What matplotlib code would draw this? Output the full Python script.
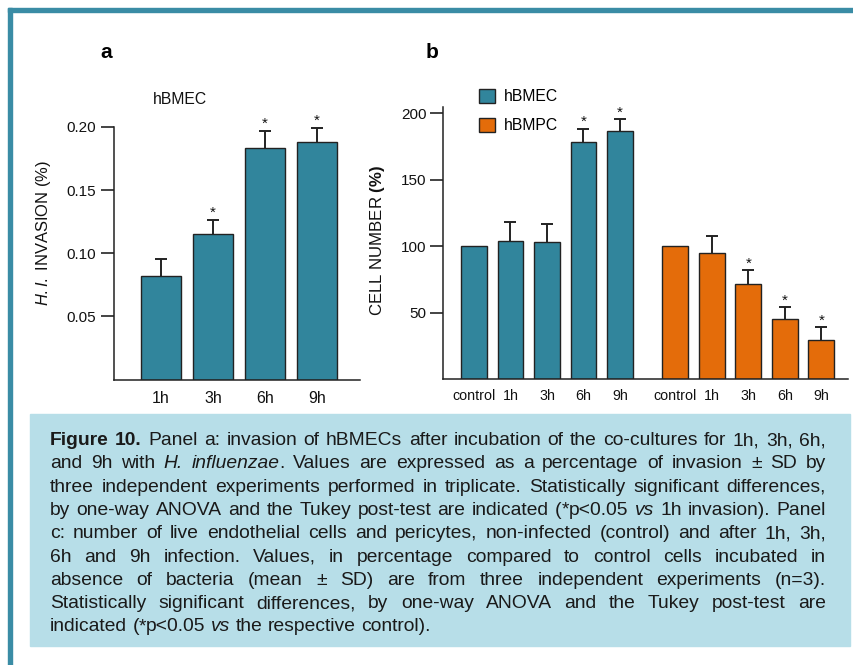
import re
import numpy as np
import matplotlib
matplotlib.use('Agg')
import matplotlib.pyplot as plt
from matplotlib.patches import Rectangle

plt.rcParams['font.family'] = ['Liberation Sans', 'DejaVu Sans']
plt.rcParams['mathtext.fontset'] = 'custom'
plt.rcParams['mathtext.rm'] = 'Liberation Sans'
plt.rcParams['mathtext.it'] = 'Liberation Sans:italic'
plt.rcParams['mathtext.bf'] = 'Liberation Sans:bold'

# panel a data
times_a = ['1h', '3h', '6h', '9h']
invasion = [0.0817, 0.1153, 0.183, 0.188]
invasion_sd = [0.014, 0.011, 0.014, 0.0115]
invasion_sig = [False, True, True, True]

# panel b data
groups_b = ['control', '1h', '3h', '6h', '9h']
bmec_cells = [100, 104.1, 103.4, 178.6, 186.6]
bmec_sd = [0, 13.9, 13.3, 9.7, 9.0]
bmec_sig = [False, False, False, True, True]
bmpc_cells = [100, 95.1, 71.8, 45.5, 29.2]
bmpc_sd = [0, 12.8, 10.1, 8.6, 9.8]
bmpc_sig = [False, False, True, True, True]

caption_lines = [
    "**Figure** **10.** Panel a: invasion of hBMECs after incubation of the co-cultures for 1h, 3h, 6h,",
    "and 9h with *H.* *influenzae*. Values are expressed as a percentage of invasion \u00b1 SD by",
    "three independent experiments performed in triplicate. Statistically significant differences,",
    "by one-way ANOVA and the Tukey post-test are indicated (*p<0.05 *vs* 1h invasion). Panel",
    "c: number of live endothelial cells and pericytes, non-infected (control) and after 1h, 3h,",
    "6h and 9h infection. Values, in percentage compared to control cells incubated in",
    "absence of bacteria (mean \u00b1 SD) are from three independent experiments (n=3).",
    "Statistically significant differences, by one-way ANOVA and the Tukey post-test are",
    "indicated (*p<0.05 *vs* the respective control).",
]

teal = '#31859C'
orange = '#E46C0A'
edge = '#222222'
W, H = 854, 665

fig = plt.figure(figsize=(W / 100, H / 100), dpi=100)


def fx(x):
    return x / W


def fy(y):
    return 1 - y / H


def axes_px(left, top, right, bottom):
    return fig.add_axes([fx(left), fy(bottom), (right - left) / W, (bottom - top) / H])


# frame and caption box
fig.patches.append(Rectangle((fx(8), 0), 4 / W, fy(8), transform=fig.transFigure,
                             color='#3a8ca5', zorder=0))
fig.patches.append(Rectangle((fx(8), fy(12)), 1, 4 / H, transform=fig.transFigure,
                             color='#3a8ca5', zorder=0))
fig.patches.append(Rectangle((fx(30), fy(646)), (850 - 30) / W, (646 - 414) / H,
                             transform=fig.transFigure, color='#B7DEE8', zorder=0))


def style_axes(ax):
    for s in ['top', 'right']:
        ax.spines[s].set_visible(False)
    for s in ['left', 'bottom']:
        ax.spines[s].set_linewidth(1.1)
        ax.spines[s].set_color(edge)
    ax.tick_params(axis='x', length=0, labelsize=11.5, pad=8, colors='#111111')
    ax.tick_params(axis='y', length=9.4, width=1.1, labelsize=11, pad=3.2, colors='#111111')


def draw_bars(ax, xs, vals, sds, color, width, label=None):
    ax.bar(xs, vals, width=width, color=color, edgecolor=edge, linewidth=1.0,
           zorder=2, label=label)
    m = np.array(sds) > 0
    ax.errorbar(np.asarray(xs)[m], np.array(vals)[m], yerr=np.array(sds)[m], fmt='none',
                ecolor=edge, elinewidth=1.4, capsize=4.5, capthick=1.4, zorder=1)


def add_stars(ax, xs, vals, sds, sig):
    for x, v, s, g in zip(xs, vals, sds, sig):
        if g:
            ax.annotate('*', (x, v + s), xytext=(0, 2), textcoords='offset points',
                        ha='center', va='baseline', fontsize=11, color='#111111')


# ---- panel a ----
ax1 = axes_px(114, 127, 360, 379.5)
xa = np.arange(len(times_a))
draw_bars(ax1, xa, invasion, invasion_sd, teal, 0.78)
add_stars(ax1, xa, invasion, invasion_sd, invasion_sig)
ax1.set_ylim(0, 0.2)
ax1.set_xlim(-0.904, 3.83)
ax1.set_yticks([0.05, 0.10, 0.15, 0.20])
ax1.set_yticklabels(['0.05', '0.10', '0.15', '0.20'])
ax1.set_xticks(xa)
ax1.set_xticklabels(times_a)
style_axes(ax1)
fig.text(fx(44), fy(233), r'$\mathit{H.I.}$ INVASION (%)', rotation=90,
         ha='center', va='center', fontsize=11.9, color='#111111')
fig.text(fx(180), fy(100), 'hBMEC', ha='center', va='center', fontsize=11.3, color='#111111')
fig.text(fx(106), fy(52), 'a', ha='center', va='center', fontsize=15, fontweight='bold')

# ---- panel b ----
ax2 = axes_px(443, 106.7, 848, 379.3)
xb1 = np.arange(len(groups_b))
xb2 = xb1 + 5.52
draw_bars(ax2, xb1, bmec_cells, bmec_sd, teal, 0.71, 'hBMEC')
draw_bars(ax2, xb2, bmpc_cells, bmpc_sd, orange, 0.71, 'hBMPC')
add_stars(ax2, xb1, bmec_cells, bmec_sd, bmec_sig)
add_stars(ax2, xb2, bmpc_cells, bmpc_sd, bmpc_sig)
ax2.set_ylim(0, 205)
ax2.set_xlim(-0.85, 10.25)
ax2.set_yticks([50, 100, 150, 200])
ax2.set_xticks(np.concatenate([xb1, xb2]))
ax2.set_xticklabels(groups_b + groups_b)
style_axes(ax2)
ax2.tick_params(axis='x', labelsize=10.3, pad=7)
ax2.tick_params(axis='y', pad=2.4)
fig.text(fx(378), fy(240), r'CELL NUMBER $\mathbf{(\%)}$', rotation=90, ha='center',
         va='center', fontsize=12.1, color='#111111')
fig.text(fx(432), fy(52), 'b', ha='center', va='center', fontsize=15, fontweight='bold')
ax2.legend(loc='upper left', bbox_to_anchor=(fx(479), fy(89)), bbox_transform=fig.transFigure,
           frameon=False, borderpad=0, borderaxespad=0, fontsize=11.3, handlelength=1.0,
           handleheight=1.0, handletextpad=0.6, labelspacing=0.85)

# ---- caption (justified) ----
renderer = fig.canvas.get_renderer()
cap_size = 13.9
left_px, right_px = 50, 826
base0, step = 445, 23.3


def parse_word(word):
    runs = []
    for m in re.finditer(r'\*\*(.+?)\*\*|\*([^*]+?)\*|([^*]+|\*)', word):
        if m.group(1):
            runs.append((m.group(1), 'bold', 'normal'))
        elif m.group(2):
            runs.append((m.group(2), 'normal', 'italic'))
        else:
            runs.append((m.group(3), 'normal', 'normal'))
    return runs


sp = fig.text(0, 0, 'a a', fontsize=cap_size)
sp2 = fig.text(0, 0, 'aa', fontsize=cap_size)
space_w = sp.get_window_extent(renderer).width - sp2.get_window_extent(renderer).width
sp.remove()
sp2.remove()

for i, line in enumerate(caption_lines):
    y = fy(base0 + i * step)
    words = []
    for w in line.split(' '):
        arts = []
        for txt, wt, st in parse_word(w):
            t = fig.text(0, y, txt, fontsize=cap_size, fontweight=wt, fontstyle=st,
                         ha='left', va='baseline', color='#1a1a1a')
            arts.append((t, t.get_window_extent(renderer).width))
        words.append(arts)
    widths = [sum(a[1] for a in w) for w in words]
    if i < len(caption_lines) - 1:
        gap = (right_px - left_px - sum(widths)) / (len(words) - 1)
    else:
        gap = space_w
    x = left_px
    for arts in words:
        for t, wdt in arts:
            t.set_x(fx(x))
            x += wdt
        x += gap

fig.savefig('out.png', dpi=100)
